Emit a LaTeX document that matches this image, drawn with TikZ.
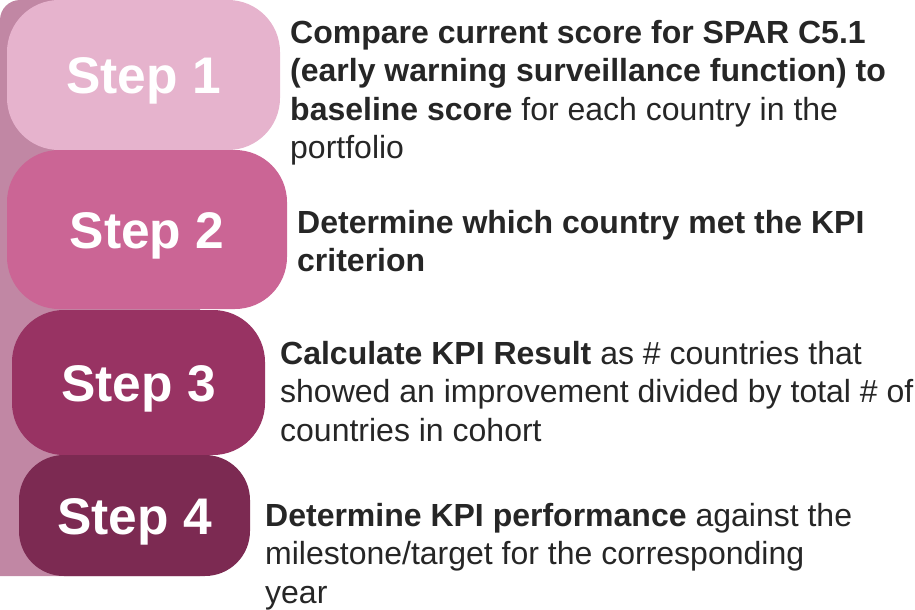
\documentclass[tikz,border=0pt]{standalone}
\usepackage{fontspec}
\setmainfont{Liberation Sans}
\definecolor{stripc}{HTML}{C187A4}
\definecolor{cone}{HTML}{E6B3CD}
\definecolor{ctwo}{HTML}{CB6595}
\definecolor{cthree}{HTML}{983363}
\definecolor{cfour}{HTML}{7C2A52}
\definecolor{txt}{HTML}{262626}
\tikzset{
  stepbox/.style={rounded corners=52pt, inner sep=0pt, text=white,
    font=\fontsize{51.5}{60}\selectfont\bfseries, text height=37pt, text depth=0pt},
  desc/.style={anchor=north west, inner sep=0pt, align=left, text=txt,
    font=\fontsize{32}{38.5}\selectfont}
}
\begin{document}
\begin{tikzpicture}[x=1pt,y=-1pt]
\useasboundingbox (0,0) rectangle (915,610);
% background strip
\fill[stripc, rounded corners=20pt] (0,576) -- (0,0) -- (200,0) [sharp corners] -- (200,576) -- cycle;
% step boxes
\node[stepbox, fill=cone, minimum width=273pt, minimum height=150pt] (s1) at (143.5,75) {Step 1};
\node[stepbox, fill=ctwo, minimum width=280pt, minimum height=159pt] (s2) at (147,229.5) {Step 2};
\node[stepbox, fill=cthree, minimum width=253pt, minimum height=145pt] (s3) at (138.5,382.5) {Step 3};
\node[stepbox, rounded corners=45pt, fill=cfour, minimum width=231pt, minimum height=121pt] (s4) at (134.5,515.5) {Step 4};
% descriptions
\node[desc] (d1) at (290,19) {\rule{0pt}{24pt}\textbf{Compare current score for SPAR C5.1}\\
\textbf{(early warning surveillance function) to}\\
\textbf{baseline score} for each country in the\\
portfolio};
\node[desc] (d2) at (297,209) {\rule{0pt}{24pt}\textbf{Determine which country met the KPI}\\
\textbf{criterion}};
\node[desc] (d3) at (280,340) {\rule{0pt}{24pt}\textbf{Calculate KPI Result} as \# countries that\\
showed an improvement divided by total \# of\\
countries in cohort};
\node[desc] (d4) at (265,502) {\rule{0pt}{24pt}\textbf{Determine KPI performance} against the\\
milestone/target for the corresponding\\
year};
\end{tikzpicture}
\end{document}
